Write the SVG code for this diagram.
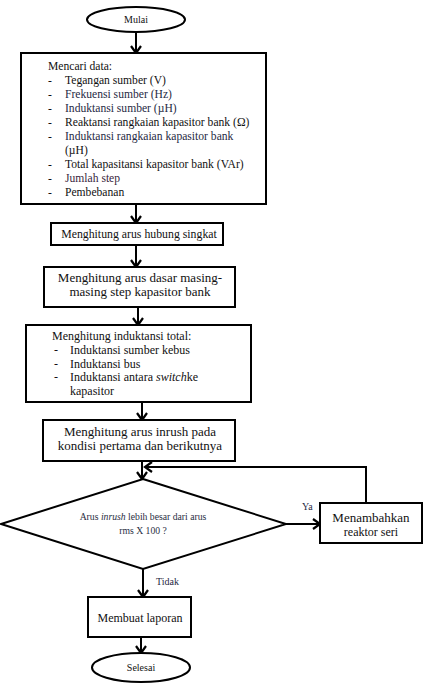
<svg xmlns="http://www.w3.org/2000/svg" width="431" height="684" viewBox="0 0 431 684" font-family="'Liberation Serif','Times New Roman',serif">
<style>
.b{fill:#fff;stroke:#000;stroke-width:2}
.c{fill:none;stroke:#000;stroke-width:2}
text{font-family:"Liberation Serif","Times New Roman",serif;fill:#111}
.t{font-size:11.6px}
.m{font-size:13px;text-anchor:middle}
.s{font-size:12px}
.d{font-size:9.7px;text-anchor:middle;fill:#2a2f44}
.l{font-size:10px;fill:#1f2a44}
</style>
<defs>
<marker id="ah" markerUnits="userSpaceOnUse" markerWidth="14" markerHeight="14" viewBox="-8 -7 10 14" refX="0" refY="0" orient="auto">
<path d="M-7,-5 L0,0 L-7,5" fill="none" stroke="#000" stroke-width="2.2"/>
</marker>
</defs>
<g id="connectors">
<line class="c" x1="136" y1="32" x2="136" y2="53" marker-end="url(#ah)"/>
<line class="c" x1="136" y1="204" x2="136" y2="223" marker-end="url(#ah)"/>
<line class="c" x1="136" y1="245" x2="136" y2="267" marker-end="url(#ah)"/>
<line class="c" x1="138" y1="307" x2="138" y2="325" marker-end="url(#ah)"/>
<line class="c" x1="142" y1="402" x2="142" y2="420" marker-end="url(#ah)"/>
<line class="c" x1="142" y1="461" x2="142" y2="479" marker-end="url(#ah)"/>
<line class="c" x1="286" y1="524" x2="320" y2="524" marker-end="url(#ah)"/>
<polyline class="c" points="366,503 366,467 145,467" marker-end="url(#ah)"/>
<line class="c" x1="143" y1="569" x2="143" y2="597" marker-end="url(#ah)"/>
<line class="c" x1="141" y1="637" x2="141" y2="653" marker-end="url(#ah)"/>
<text class="l" x="302" y="510">Ya</text>
<text class="l" x="156" y="585">Tidak</text>
</g>
<g id="mulai">
<ellipse class="b" cx="136" cy="19.5" rx="49" ry="12.5"/>
<text x="136" y="23" style="font-size:10px;text-anchor:middle">Mulai</text>
</g>
<g id="mencari-data">
<rect class="b" x="21" y="53" width="245" height="151"/>
<text class="t" x="48" y="70">Mencari data:</text>
<text class="t" x="48" y="84">-</text><text class="t" x="65" y="84">Tegangan sumber (V)</text>
<text class="t" x="48" y="98">-</text><text class="t" x="65" y="98" style="fill:#1f2a44">Frekuensi sumber (Hz)</text>
<text class="t" x="48" y="112">-</text><text class="t" x="65" y="112" style="fill:#1f2a44">Induktansi sumber (µH)</text>
<text class="t" x="48" y="126">-</text><text class="t" x="65" y="126">Reaktansi rangkaian kapasitor bank (Ω)</text>
<text class="t" x="48" y="140">-</text><text class="t" x="65" y="140" style="fill:#1f2a44">Induktansi rangkaian kapasitor bank</text>
<text class="t" x="65" y="154">(µH)</text>
<text class="t" x="48" y="168">-</text><text class="t" x="65" y="168">Total kapasitansi kapasitor bank (VAr)</text>
<text class="t" x="48" y="182">-</text><text class="t" x="65" y="182" style="fill:#3a1f40">Jumlah step</text>
<text class="t" x="48" y="196">-</text><text class="t" x="65" y="196">Pembebanan</text>
</g>
<g id="hubung-singkat">
<rect class="b" x="51" y="223" width="172" height="22"/>
<text class="t" x="139" y="238" style="text-anchor:middle;font-size:11.8px">Menghitung arus hubung singkat</text>
</g>
<g id="arus-dasar">
<rect class="b" x="44" y="267" width="191" height="40"/>
<text class="m" x="140" y="282">Menghitung arus dasar masing-</text>
<text class="m" x="140" y="296">masing step kapasitor bank</text>
</g>
<g id="induktansi-total">
<rect class="b" x="26" y="325" width="225" height="77"/>
<text class="s" x="52" y="340">Menghitung induktansi total:</text>
<text class="s" x="54" y="354">-</text><text class="s" x="70" y="354">Induktansi sumber kebus</text>
<text class="s" x="54" y="367.5">-</text><text class="s" x="70" y="367.5">Induktansi bus</text>
<text class="s" x="54" y="381">-</text><text class="s" x="70" y="381">Induktansi antara <tspan font-style="italic">switch</tspan>ke</text>
<text class="s" x="70" y="395">kapasitor</text>
</g>
<g id="arus-inrush">
<rect class="b" x="43" y="420" width="192" height="41"/>
<text class="m" x="140" y="436">Menghitung arus inrush pada</text>
<text class="m" x="140" y="450">kondisi pertama dan berikutnya</text>
</g>
<g id="keputusan">
<polygon class="b" points="143,479 286,524 143,569 1,524"/>
<text class="d" x="143" y="520">Arus <tspan font-style="italic">inrush</tspan> lebih besar dari arus</text>
<text class="d" x="143" y="534">rms X 100 ?</text>
</g>
<g id="reaktor-seri">
<rect class="b" x="320" y="503" width="102" height="40"/>
<text class="m" x="371" y="522">Menambahkan</text>
<text class="m" x="371" y="536" style="font-size:12px">reaktor seri</text>
</g>
<g id="laporan">
<rect class="b" x="88" y="597" width="103" height="40"/>
<text class="s" x="140" y="622" style="text-anchor:middle">Membuat laporan</text>
</g>
<g id="selesai">
<ellipse class="b" cx="141" cy="667.5" rx="49" ry="14.5"/>
<text x="141" y="671" style="font-size:10px;text-anchor:middle">Selesai</text>
</g>
</svg>
